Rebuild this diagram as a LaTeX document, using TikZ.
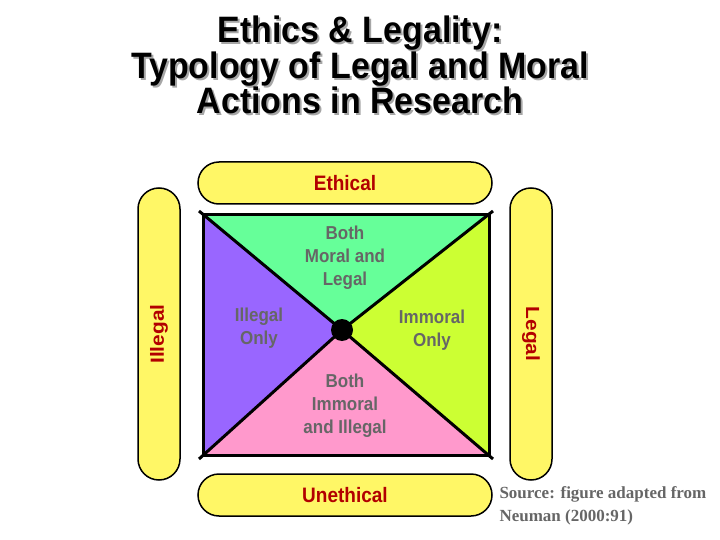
\documentclass[tikz,border=0pt]{standalone}
\usepackage{fontspec}
\setmainfont{Liberation Sans}
\newfontfamily\serifx{Liberation Serif}
\begin{document}
\begin{tikzpicture}[x=1pt,y=-1pt,
  pill/.style={draw=black,line width=1.5pt,fill=yellow!60!white,rounded corners=21pt},
  lab/.style={text=black!60,font=\bfseries\fontsize{17}{21}\selectfont,align=center,yscale=1.1},
  side/.style={text=red!70!black,font=\bfseries\fontsize{19}{22}\selectfont,yscale=1.1},
  ttl/.style={font=\bfseries\fontsize{35}{34}\selectfont,align=center,xscale=0.97,yscale=1.05}]
\useasboundingbox (0,0) rectangle (720,540);
\node[ttl,text=black!35] (ts) at (362,67) {Ethics \& Legality:\\Typology of Legal and Moral\\Actions in Research};
\node[ttl] (t) at (360,65) {Ethics \& Legality:\\Typology of Legal and Moral\\Actions in Research};
\draw[pill] (198,162) rectangle (492,204);
\draw[pill] (198,474) rectangle (492,516);
\draw[pill] (138,188) rectangle (180,480);
\draw[pill] (510,188) rectangle (552,480);
\coordinate (A) at (203,215); \coordinate (B) at (489,215);
\coordinate (C) at (489,455); \coordinate (D) at (203,455);
\coordinate (O) at (342,330);
\fill[fill={rgb,255:red,153;green,102;blue,255}] (A)--(O)--(D)--cycle;
\fill[fill={rgb,255:red,204;green,255;blue,51}] (B)--(C)--(O)--cycle;
\fill[fill={rgb,255:red,255;green,153;blue,204}] (D)--(O)--(C)--cycle;
\fill[fill={rgb,255:red,102;green,255;blue,153}] (A)--(B)--(O)--cycle;
\draw[line width=3pt] (A)--(B)--(C)--(D)--cycle;
\draw[line width=3pt] (199,211)--(O)--(493,459);
\draw[line width=3pt] (493,211)--(O)--(199,459);
\fill (O) circle (11);
\node[side] (e) at (345,183) {Ethical};
\node[side] (u) at (345,495) {Unethical};
\node[side,rotate=90] (il) at (159,334) {Illegal};
\node[side,rotate=-90] (le) at (531,334) {Legal};
\node[lab] (n1) at (345,258) {Both\\Moral and\\Legal};
\node[lab] (n2) at (259,328) {Illegal\\Only};
\node[lab] (n3) at (432,330) {Immoral\\Only};
\node[lab] (n4) at (345,406) {Both\\Immoral\\and Illegal};
\node[font=\serifx\bfseries\fontsize{17}{23}\selectfont,text=black!60,align=left,anchor=west] (src) at (496,506) {Source: figure adapted from\\Neuman (2000:91)};
\end{tikzpicture}
\end{document}
